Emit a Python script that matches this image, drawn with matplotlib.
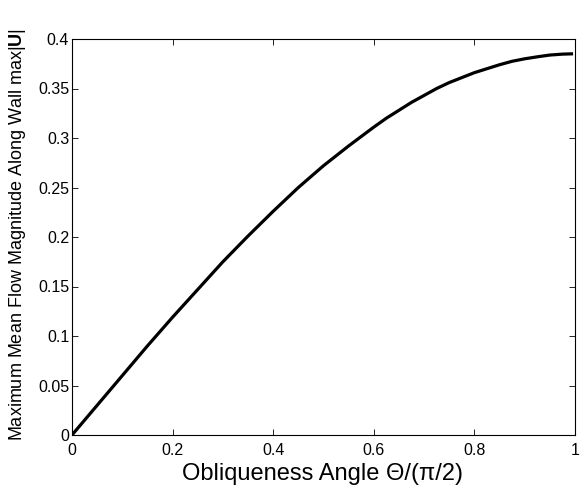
import matplotlib
matplotlib.use("Agg")
import matplotlib.pyplot as plt
from matplotlib.ticker import FuncFormatter

plt.rcParams["font.family"] = ["Liberation Sans", "DejaVu Sans"]
plt.rcParams["mathtext.fontset"] = "custom"
plt.rcParams["mathtext.rm"] = "Liberation Sans"
plt.rcParams["mathtext.bf"] = "Liberation Sans:bold"

# obliqueness angle (normalised) vs max mean flow magnitude
angle = [0.0, 0.05, 0.10, 0.15, 0.20, 0.25, 0.30, 0.35, 0.40, 0.45, 0.50,
         0.55, 0.60, 0.625, 0.65, 0.675, 0.70, 0.725, 0.75, 0.775, 0.80,
         0.825, 0.85, 0.875, 0.90, 0.925, 0.95, 0.975, 0.993]
max_u = [0.0, 0.030, 0.060, 0.090, 0.119, 0.147, 0.175, 0.201, 0.226, 0.250,
         0.272, 0.292, 0.311, 0.320, 0.328, 0.336, 0.343, 0.350, 0.356,
         0.361, 0.366, 0.370, 0.374, 0.3775, 0.380, 0.382, 0.3838, 0.3847,
         0.385]

x_ticks = [0, 0.2, 0.4, 0.6, 0.8, 1.0]
y_ticks = [0, 0.05, 0.1, 0.15, 0.2, 0.25, 0.3, 0.35, 0.4]

fig = plt.figure(figsize=(5.83, 4.87), dpi=100)
ax = fig.add_axes([72 / 583, 1 - 435 / 487, 503 / 583, 396 / 487])

ax.plot(angle, max_u, color="black", linewidth=2.3)

ax.set_xlim(0, 1)
ax.set_ylim(0, 0.4)
ax.set_xticks(x_ticks)
ax.set_yticks(y_ticks)
fmt = FuncFormatter(lambda v, _: f"{v:g}")
ax.xaxis.set_major_formatter(fmt)
ax.yaxis.set_major_formatter(fmt)
ax.tick_params(direction="in", top=True, right=True, length=4, width=0.6,
               labelsize=11.5)
ax.tick_params(axis="x", pad=6)
ax.tick_params(axis="y", pad=2)
for s in ax.spines.values():
    s.set_linewidth(0.8)

ax.set_xlabel("Obliqueness Angle Θ/(π/2)", fontsize=17)
ax.xaxis.set_label_coords(0.498, -0.07)
ax.set_ylabel(r"Maximum Mean Flow Magnitude Along Wall max$|\mathbf{U}|$",
              fontsize=13)
ax.yaxis.set_label_coords(-0.088, 0.505)

fig.savefig("out.png", dpi=100)
